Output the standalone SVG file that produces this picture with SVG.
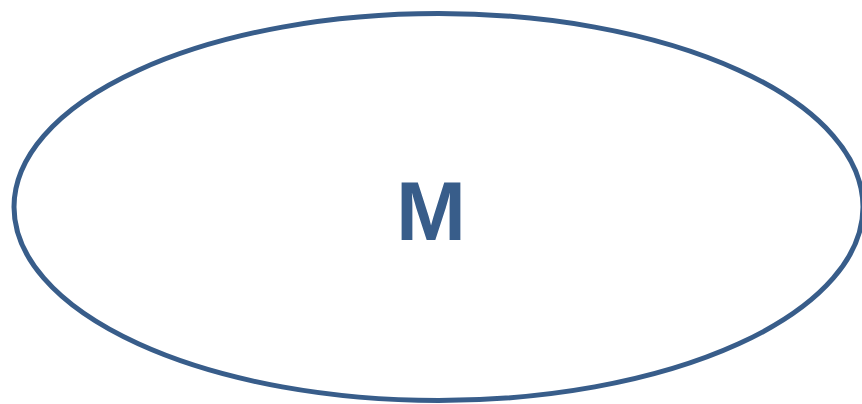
<svg xmlns="http://www.w3.org/2000/svg" width="862" height="404" viewBox="0 0 862 404">
<style>
.node{fill:#ffffff;stroke:#385D8A;stroke-width:5}
.lbl{font-family:"Liberation Sans",Arial,sans-serif;font-weight:bold;font-size:84px;fill:#385D8A;text-anchor:middle}
</style>
<rect width="862" height="404" fill="#ffffff"/>
<g id="connectors"></g>
<g id="node-M">
<ellipse class="node" cx="438.5" cy="207" rx="424.5" ry="193.5"/>
<text class="lbl" x="431" y="240">M</text>
</g>
</svg>
